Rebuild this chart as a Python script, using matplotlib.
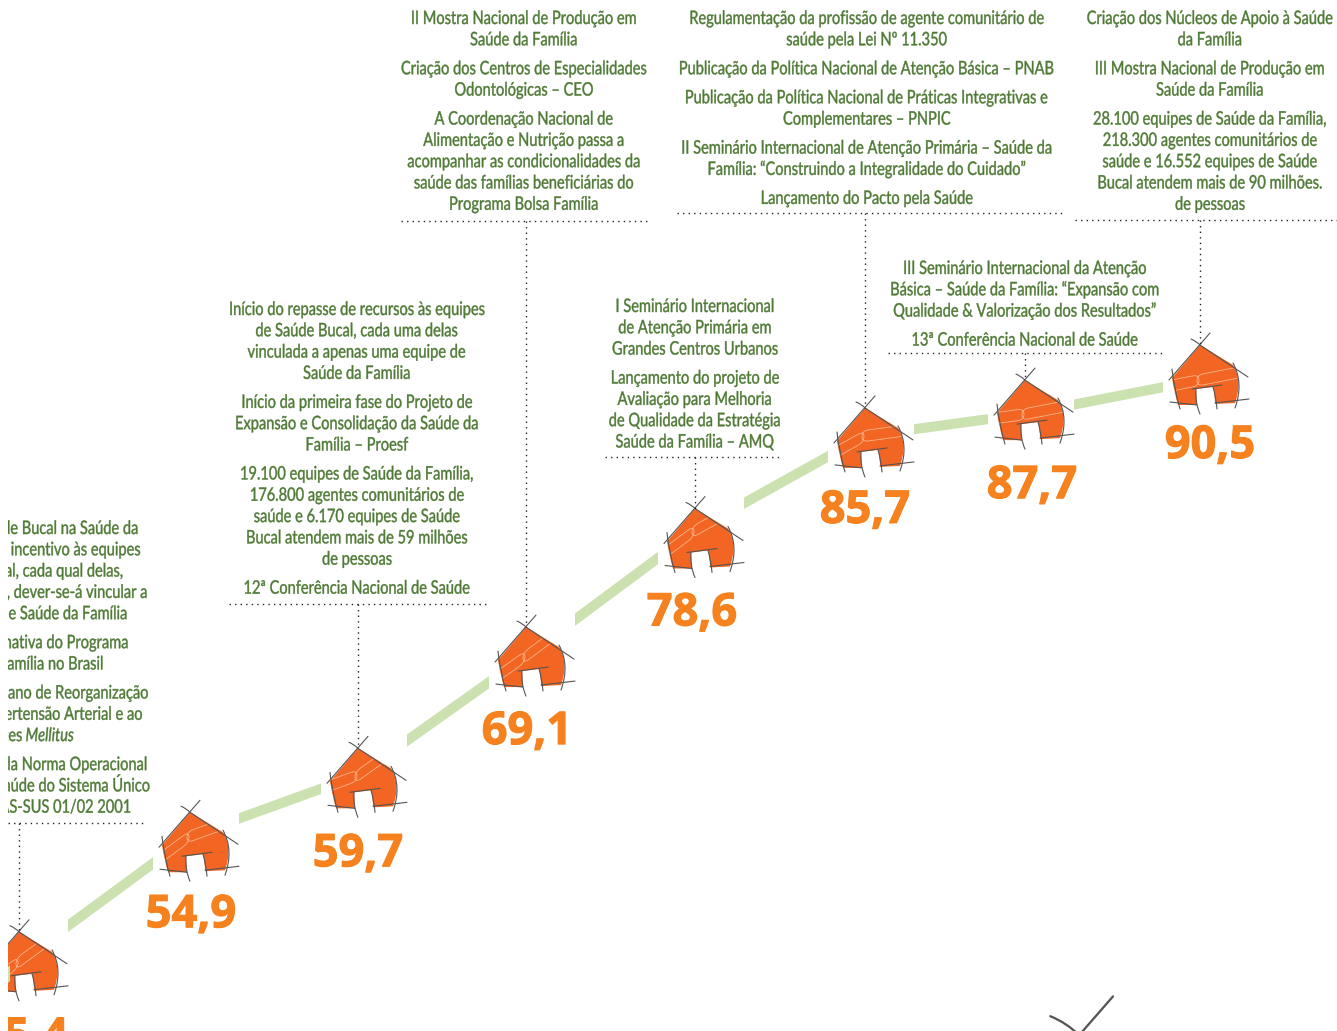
import matplotlib
matplotlib.use("Agg")
import matplotlib.pyplot as plt
from matplotlib.path import Path
from matplotlib.patches import PathPatch
from matplotlib.patheffects import AbstractPathEffect, withStroke
from matplotlib.text import Text
from matplotlib.transforms import Affine2D, Bbox

# coverage values, one per house
values = [45.4, 54.9, 59.7, 69.1, 78.6, 85.7, 87.7, 90.5]

# text blocks: paragraphs of lines
block_a = [["Inserção da Saúde Bucal na Saúde da", "Família, com incentivo às equipes", "de Saúde Bucal, cada qual delas,",
            "por sua vez, dever-se-á vincular a", "duas equipes de Saúde da Família"],
           ["Avaliação normativa do Programa", "Saúde da Família no Brasil"],
           ["Lançamento do Plano de Reorganização", "da Atenção à Hipertensão Arterial e ao"],
           ["Publicação da Norma Operacional", "de Assistência à Saúde do Sistema Único", "de Saúde NOAS-SUS 01/02 2001"]]
block_a_right = [[139, 141, 124, 148, 128], [129, 104], [149, 143], [148, 150, 131]]
block_c = [["Início do repasse de recursos às equipes", "de Saúde Bucal, cada uma delas",
            "vinculada a apenas uma equipe de", "Saúde da Família"],
           ["Início da primeira fase do Projeto de", "Expansão e Consolidação da Saúde da", "Família – Proesf"],
           ["19.100 equipes de Saúde da Família,", "176.800 agentes comunitários de", "saúde e 6.170 equipes de Saúde",
            "Bucal atendem mais de 59 milhões", "de pessoas"],
           ["12ª Conferência Nacional de Saúde"]]
block_d = [["II Mostra Nacional de Produção em", "Saúde da Família"],
           ["Criação dos Centros de Especialidades", "Odontológicas – CEO"],
           ["A Coordenação Nacional de", "Alimentação e Nutrição passa a", "acompanhar as condicionalidades da",
            "saúde das famílias beneficiárias do", "Programa Bolsa Família"]]
block_e = [["I Seminário Internacional", "de Atenção Primária em", "Grandes Centros Urbanos"],
           ["Lançamento do projeto de", "Avaliação para Melhoria", "de Qualidade da Estratégia", "Saúde da Família – AMQ"]]
block_f = [["Regulamentação da profissão de agente comunitário de", "saúde pela Lei Nº 11.350"],
           ["Publicação da Política Nacional de Atenção Básica – PNAB"],
           ["Publicação da Política Nacional de Práticas Integrativas e", "Complementares – PNPIC"],
           ["II Seminário Internacional de Atenção Primária – Saúde da", "Família: “Construindo a Integralidade do Cuidado”"],
           ["Lançamento do Pacto pela Saúde"]]
block_g = [["III Seminário Internacional da Atenção", "Básica – Saúde da Família: “Expansão com",
            "Qualidade & Valorização dos Resultados”"],
           ["13ª Conferência Nacional de Saúde"]]
block_h = [["Criação dos Núcleos de Apoio à Saúde", "da Família"],
           ["III Mostra Nacional de Produção em", "Saúde da Família"],
           ["28.100 equipes de Saúde da Família,", "218.300 agentes comunitários de", "saúde e 16.552 equipes de Saúde",
            "Bucal atendem mais de 90 milhões.", "de pessoas"]]

# layout (pixels)
W, H = 1337, 1031
LEFT = 8
nudge_x = [0, 2, 1, 0, 0, 1, -8, -2]
nudge_y = [0, -3, -2, 0, -3, -6, -2, 0]
roof_rise = [30, 24, 27, 29, 22, 28, 34, 35]
label_dx = [4, 1, 0, 1, -3, 0, 7, 10]
label_dy = [118, 115, 118, 117, 117, 115, 118, 113]

GREEN_TEXT = "#4F7A36"
BAND = "#CBE2B0"
HOUSE = "#F26522"
NUMBER = "#F5821F"
SKETCH = "#555555"
TEXT_SIZE = 13.4
SQUEEZE = 0.785
FAMILY = "Lato"


class Squeeze(AbstractPathEffect):
    def __init__(self, xc, sx):
        super().__init__()
        self.xc = xc
        self.sx = sx

    def draw_path(self, renderer, gc, tpath, affine, rgbFace=None):
        squeeze = Affine2D().translate(-self.xc, 0).scale(self.sx, 1).translate(self.xc, 0)
        gc.set_foreground(rgbFace)
        gc.set_linewidth(0.3)
        renderer.draw_path(gc, tpath, affine + squeeze, rgbFace)


class NarrowText(Text):
    # no condensed face is installed, so the glyphs are narrowed about the anchor
    def _anchor_x(self):
        return self.get_transform().transform(self.get_unitless_position())[0]

    def draw(self, renderer):
        self.set_path_effects([Squeeze(self._anchor_x(), SQUEEZE)])
        super().draw(renderer)

    def get_window_extent(self, renderer=None, dpi=None):
        bb = super().get_window_extent(renderer, dpi)
        xc = self._anchor_x()
        return Bbox.from_extents(xc + (bb.x0 - xc) * SQUEEZE, bb.y0, xc + (bb.x1 - xc) * SQUEEZE, bb.y1)


fig = plt.figure(figsize=(W / 100, H / 100), dpi=100)
rect = [LEFT / W, 0, (W - LEFT) / W, 1]
scale = fig.add_axes(rect)
scale.set_xlim((LEFT - 19) / 169, (W - 19) / 169)
scale.set_ylim(90.5 - (H - 380) / 12.9, 90.5 + 380 / 12.9)
scale.axis("off")
ax = fig.add_axes(rect)
ax.set_xlim(LEFT, W)
ax.set_ylim(H, 0)
ax.axis("off")

anchors = []
for i, v in enumerate(values):
    p = ax.transData.inverted().transform(scale.transData.transform((i, v)))
    anchors.append((p[0] + nudge_x[i], p[1] + nudge_y[i]))
apexes = [(a[0], a[1] - r) for a, r in zip(anchors, roof_rise)]


def put_text(x, y, s, ha="center", style="normal"):
    t = NarrowText(x, y + 6, s, color=GREEN_TEXT, fontsize=TEXT_SIZE, family=FAMILY, ha=ha, va="baseline",
                   style=style, clip_on=True, zorder=6)
    ax.add_artist(t)
    return t


def draw_house(x0, y0, s=1.0, slopes=None, anchor=None):
    def P(dx, dy):
        return (x0 + dx * s, y0 + dy * s)

    V = [P(0, 0), P(33, 20), P(43, 36), P(35, 58), P(15, 59), P(15, 48), P(13, 42), P(-4, 44), P(-3, 60),
         P(-22, 60), P(-26, 46), P(-28, 33), P(0, 0)]
    C = [Path.MOVETO, Path.LINETO, Path.CURVE3, Path.CURVE3, Path.LINETO, Path.CURVE3, Path.CURVE3, Path.LINETO,
         Path.LINETO, Path.LINETO, Path.CURVE3, Path.CURVE3, Path.CLOSEPOLY]
    body = PathPatch(Path(V, C), fc=HOUSE, ec="none", zorder=3)
    ax.add_patch(body)

    # pale outline of the band crossing the house
    if slopes is not None:
        xa, ya = anchor
        for side, sl, near in zip((-1, 1), slopes, (-1, -3)):
            far = xa + side * 46
            xn = xa + near
            yf = ya + (far - xa) * sl
            yn = ya + (xn - xa) * sl
            r = 6 * side
            vs = [(far, yf + 5.5), (xn + r, yn + r * sl + 5.5), (xn, yn + 5.5), (xn, yn),
                  (xn, yn - 5.5), (xn + r, yn + r * sl - 5.5), (far, yf - 5.5)]
            cs = [Path.MOVETO, Path.LINETO, Path.CURVE3, Path.CURVE3, Path.CURVE3, Path.CURVE3, Path.LINETO]
            pale = PathPatch(Path(vs, cs), fc="none", ec="#F9B58D", lw=0.6, zorder=4)
            ax.add_patch(pale)
            pale.set_clip_path(body.get_path(), body.get_transform())

    # sketchy construction lines, each a straight run or one bend
    strokes = [
        [P(10, -12), P(-31, 35)],
        [P(-9, -6), P(-4, -4), P(0, 0)],
        [P(0, 0), P(48, 32)],
        [P(-28, 24), P(-26, 44), P(-20, 64)],
        [P(-30, 57), P(-3, 60)],
        [P(-8, 44), P(22, 40)],
        [P(-4, 44), P(-5, 58), P(0, 69)],
        [P(13, 42), P(16, 52), P(17, 64)],
        [P(15, 58), P(49, 54)],
        [P(33, 18), P(44, 38), P(35, 63)],
    ]
    for st in strokes:
        codes = [Path.MOVETO, Path.LINETO] if len(st) == 2 else [Path.MOVETO, Path.CURVE3, Path.CURVE3]
        ax.add_patch(PathPatch(Path(st, codes), fc="none", ec=SKETCH, lw=0.8 * s ** 0.6, capstyle="round", zorder=5))


# green band between houses, cut short around each house
slopes = []
for i in range(len(values) - 1):
    (xa, ya), (xb, yb) = anchors[i], anchors[i + 1]
    sl = (yb - ya) / (xb - xa)
    slopes.append(sl)
    xs, xe = apexes[i][0] + 49, apexes[i + 1][0] - 37
    ys, ye = ya + (xs - xa) * sl, ya + (xe - xa) * sl
    h = 5 * (1 + sl * sl) ** 0.5
    ax.fill([xs, xe, xe, xs], [ys - h, ye - h, ye + h, ys + h], color=BAND, lw=0, zorder=2)

for i in range(len(values)):
    sl_in = slopes[i - 1] if i > 0 else slopes[0]
    sl_out = slopes[i] if i < len(slopes) else slopes[-1]
    draw_house(apexes[i][0], apexes[i][1], slopes=(sl_in, sl_out), anchor=anchors[i])
    label = f"{values[i]:.1f}".replace(".", ",")
    ax.text(apexes[i][0] + label_dx[i], apexes[i][1] + label_dy[i], label, color=NUMBER, fontsize=32.5,
            fontweight="bold", family="Open Sans", ha="center", va="baseline", clip_on=True, zorder=6,
            path_effects=[withStroke(linewidth=0.8, foreground=NUMBER)])

# end of the incoming band, only a sliver shows at the edge
ax.fill([LEFT, 10, 10, LEFT], [967, 965, 981, 983], color=BAND, lw=0, zorder=4)

# corner of a house from the next page
draw_house(1080, 1036, s=3.3)


def write_block(paras, x, top):
    y = top
    for para in paras:
        for line in para:
            put_text(x, y, line)
            y += 21.3
        y += 7.7


write_block(block_c, 357, 309)
write_block(block_d, 524, 18)
write_block(block_e, 695, 306)
write_block(block_f, 867, 18)
write_block(block_g, 1025, 268)
write_block(block_h, 1210, 18)

# first block runs off the left edge, so it is set from the right
y = 528
for para, rights in zip(block_a, block_a_right):
    for line, right in zip(para, rights):
        put_text(right, y, line, ha="right")
        y += 21.3
    if para[0].startswith("Lançamento"):
        ital = put_text(74, y, "Mellitus", ha="right", style="italic")
        fig.canvas.draw()
        w = ital.get_window_extent().width
        put_text(74 - w - 3, y, "Diabetes", ha="right")
        y += 21.3
    y += 7.7

# dotted rules under each block, leaders down to the roofs
rules = [(LEFT, 144, 823, 0), (229, 489, 604, 2), (401, 650, 221, 3), (605, 782, 457, 4), (677, 1062, 213, 5),
         (888, 1164, 353, 6), (1075, 1337, 220, 7)]
for x0, x1, yr, i in rules:
    ax.plot([x0, x1], [yr, yr], color="#222222", lw=1, ls=(0, (1, 3)), zorder=6)
    ax.plot([apexes[i][0], apexes[i][0]], [yr, apexes[i][1]], color="#222222", lw=1, ls=(0, (1, 3)), zorder=6)

fig.savefig("out.png", dpi=100, facecolor="white")
